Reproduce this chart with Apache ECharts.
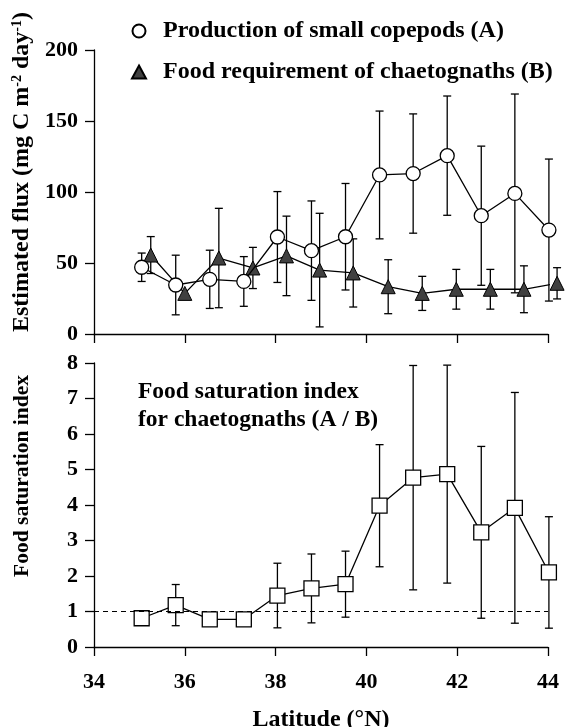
<!DOCTYPE html>
<html>
<head>
<meta charset="utf-8">
<script src="https://cdn.jsdelivr.net/npm/echarts@6/dist/echarts.min.js"></script>
<style>
  html, body { margin: 0; padding: 0; background: #fff; }
  #chart { width: 565px; height: 727px; }
</style>
</head>
<body>
<div id="chart"></div>
<script>
// production of small copepods (A)
var latA = [35.05, 35.8, 36.55, 37.3, 38.04, 38.79, 39.54, 40.29, 41.03, 41.78, 42.53, 43.27, 44.02];
var prodA = [47, 34.5, 38.5, 37, 68.3, 58.7, 68.5, 112, 113, 125.6, 83.3, 99, 73.2];
var errA = [10, 21, 20.5, 17.5, 32, 35, 37.5, 45, 42, 42, 49, 70, 50];

// food requirement of chaetognaths (B)
var latB = [35.25, 36.0, 36.75, 37.5, 38.24, 38.97, 39.71, 40.48, 41.23, 41.98, 42.73, 43.47, 44.2];
var reqB = [55.6, 28.6, 53.5, 46.5, 55, 45, 43, 33.3, 28.6, 31.5, 31.5, 31.5, 35.7];
var errB = [13, 0, 35, 14.5, 28, 40, 24, 19, 12, 14, 14, 16.5, 11];

// food saturation index (A / B)
var satIdx = [0.81, 1.18, 0.78, 0.78, 1.45, 1.65, 1.77, 3.98, 4.77, 4.87, 3.23, 3.92, 2.1];
var errS = [0, 0.58, 0, 0, 0.91, 0.97, 0.93, 1.72, 3.16, 3.07, 2.42, 3.25, 1.57];

var FONT = "Liberation Serif";
var nameA = "Production of small copepods (A)";
var nameB = "Food requirement of chaetognaths (B)";

function pairs(xs, ys) {
  return xs.map(function (x, i) { return [x, ys[i]]; });
}
function bars(xs, ys, es) {
  return xs.map(function (x, i) { return [x, ys[i] - es[i], ys[i] + es[i]]; });
}

// vertical error bar with caps
function errorBar(params, api) {
  var lo = api.value(1), hi = api.value(2);
  if (hi - lo <= 0) return null;
  var top = api.coord([api.value(0), hi]);
  var bot = api.coord([api.value(0), lo]);
  var w = 4;
  var st = { stroke: "#000", lineWidth: 1.3 };
  return {
    type: "group",
    children: [
      { type: "line", shape: { x1: top[0], y1: top[1], x2: bot[0], y2: bot[1] }, style: st },
      { type: "line", shape: { x1: top[0] - w, y1: top[1], x2: top[0] + w, y2: top[1] }, style: st },
      { type: "line", shape: { x1: bot[0] - w, y1: bot[1], x2: bot[0] + w, y2: bot[1] }, style: st }
    ]
  };
}

function font(size) {
  return { color: "#000", fontFamily: FONT, fontWeight: "bold", fontSize: size };
}

var axisLine = { show: true, lineStyle: { color: "#000", width: 1.3 } };
var axisTick = { show: true, inside: false, length: 9, lineStyle: { color: "#000", width: 1.3 } };

var myChart = echarts.init(document.getElementById("chart"));
var option = {
  backgroundColor: "#fff",
  animation: false,
  title: {
    text: "Food saturation index\nfor chaetognaths (A / B)",
    left: 138,
    top: 378,
    padding: 0,
    textStyle: Object.assign(font(23.5), { lineHeight: 28 })
  },
  legend: {
    orient: "vertical",
    left: 131,
    top: 19,
    padding: 0,
    itemWidth: 14,
    itemHeight: 13,
    itemGap: 17,
    textStyle: Object.assign(font(24), { lineHeight: 24, padding: [0, 0, 0, 12] }),
    data: [
      { name: nameA, icon: "circle" },
      { name: nameB, icon: "triangle" }
    ]
  },
  grid: [
    { left: 94, right: 17, top: 50, height: 284, outerBoundsMode: "none", containLabel: false },
    { left: 94, right: 17, top: 363, height: 284, outerBoundsMode: "none", containLabel: false }
  ],
  xAxis: [
    {
      gridIndex: 0, type: "value", min: 34, max: 44, interval: 2,
      axisLine: axisLine, axisTick: axisTick, axisLabel: { show: false }, splitLine: { show: false }
    },
    {
      gridIndex: 1, type: "value", min: 34, max: 44, interval: 2,
      axisLine: axisLine, axisTick: axisTick,
      axisLabel: Object.assign({ margin: 24 }, font(22)),
      splitLine: { show: false },
      name: "Latitude (°N)", nameLocation: "middle", nameGap: 61,
      nameTextStyle: font(24)
    }
  ],
  yAxis: [
    {
      gridIndex: 0, type: "value", min: 0, max: 200, interval: 50,
      axisLine: axisLine, axisTick: axisTick,
      axisLabel: Object.assign({ margin: 16 }, font(22)),
      splitLine: { show: false },
      name: "Estimated flux (mg C m{sup|-2} day{sup|-1})",
      nameLocation: "middle", nameGap: 58,
      nameTextStyle: Object.assign({
        padding: [0, 0, 0, 40],
        rich: { sup: Object.assign(font(14), { padding: [0, 0, 10, 0] }) }
      }, font(24))
    },
    {
      gridIndex: 1, type: "value", min: 0, max: 8, interval: 1,
      axisLine: axisLine, axisTick: axisTick,
      axisLabel: Object.assign({ margin: 16 }, font(22)),
      splitLine: { show: false },
      name: "Food saturation index",
      nameLocation: "middle", nameGap: 61,
      nameTextStyle: Object.assign({ padding: [0, 0, 0, 58] }, font(21.5))
    }
  ],
  series: [
    {
      type: "custom", xAxisIndex: 0, yAxisIndex: 0, renderItem: errorBar,
      encode: { x: 0, y: [1, 2] }, data: bars(latA, prodA, errA), z: 1, silent: true
    },
    {
      type: "custom", xAxisIndex: 0, yAxisIndex: 0, renderItem: errorBar,
      encode: { x: 0, y: [1, 2] }, data: bars(latB, reqB, errB), z: 1, silent: true
    },
    {
      type: "custom", xAxisIndex: 1, yAxisIndex: 1, renderItem: errorBar,
      encode: { x: 0, y: [1, 2] }, data: bars(latA, satIdx, errS), z: 1, silent: true
    },
    {
      name: nameB, type: "line", xAxisIndex: 0, yAxisIndex: 0, clip: false, z: 3,
      symbol: "triangle", symbolSize: 14,
      lineStyle: { color: "#000", width: 1.3 },
      itemStyle: { color: "#404040", borderColor: "#000", borderWidth: 1 },
      data: pairs(latB, reqB)
    },
    {
      name: nameA, type: "line", xAxisIndex: 0, yAxisIndex: 0, clip: false, z: 4,
      symbol: "circle", symbolSize: 14,
      lineStyle: { color: "#000", width: 1.3 },
      itemStyle: { color: "#fff", borderColor: "#000", borderWidth: 1.3 },
      data: pairs(latA, prodA)
    },
    {
      name: "Food saturation index", type: "line", xAxisIndex: 1, yAxisIndex: 1, clip: false, z: 4,
      symbol: "rect", symbolSize: 15,
      lineStyle: { color: "#000", width: 1.3 },
      itemStyle: { color: "#fff", borderColor: "#000", borderWidth: 1.3 },
      data: pairs(latA, satIdx),
      markLine: {
        silent: true, symbol: "none", label: { show: false },
        lineStyle: { color: "#000", type: [5, 4], width: 1.2 },
        data: [{ yAxis: 1 }]
      }
    }
  ]
};
myChart.setOption(option);
</script>
</body>
</html>
